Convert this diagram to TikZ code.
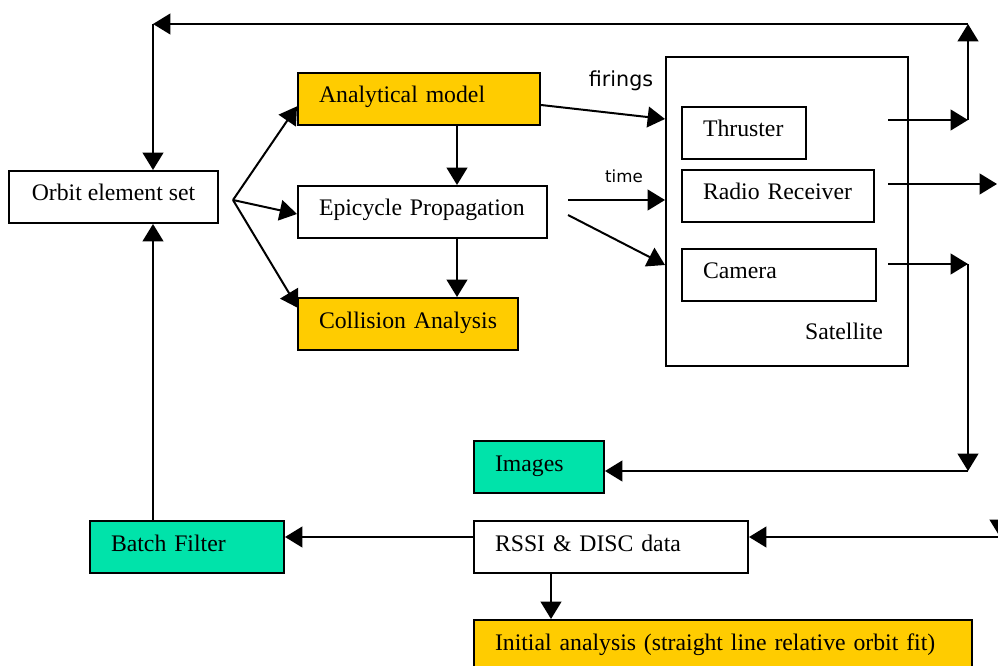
\documentclass[tikz,border=0pt]{standalone}
\usepackage{fontspec}
\setmainfont{Liberation Serif}
\newfontfamily\lblfont{DejaVu Sans}
\usetikzlibrary{arrows.meta}
\definecolor{boxyellow}{HTML}{FFCC00}
\definecolor{boxgreen}{HTML}{00E3AA}
\tikzset{
  blk/.style={draw, line width=1.5pt, anchor=north west, inner xsep=15.75pt, inner ysep=0pt,
    minimum height=39pt, text height=12pt, text depth=6pt, align=left,
    font=\fontsize{17.8}{21}\selectfont},
  flow/.style={-{Triangle[length=13pt,width=15.5pt]}, line width=1.5pt},
  lbl/.style={anchor=base, inner sep=0pt, font=\lblfont\fontsize{15.5}{18}\selectfont},
}

\begin{document}
\begin{tikzpicture}[x=0.75pt, y=-0.75pt]
\useasboundingbox (0,0) rectangle (998,666);

\node[blk, minimum width=156.75pt, align=center] (orb) at (8,170) {Orbit element set};
\node[blk, fill=boxyellow, text width=150pt] (ana) at (297,72) {\mbox{Analytical model}};
\node[blk, text width=155.25pt] (epi) at (297,185) {\mbox{Epicycle Propagation}};
\node[blk, fill=boxyellow, text width=133.5pt] (col) at (297,297) {\mbox{Collision Analysis}};

\node[draw, line width=1.5pt, anchor=north west, minimum width=181.5pt, minimum height=231.75pt] (sat) at (665,56) {};
\node[anchor=base, inner sep=0pt, font=\fontsize{17.8}{21}\selectfont] (satl) at (844,339) {Satellite};
\node[blk, text width=61.5pt] (thr) at (681,106) {Thruster};
\node[blk, text width=112.5pt] (rad) at (681,169) {\mbox{Radio Receiver}};
\node[blk, text width=114pt] (cam) at (681,248) {Camera};

\node[blk, fill=boxgreen, text width=66pt] (img) at (473,440) {Images};
\node[blk, fill=boxgreen, text width=114pt] (bat) at (89,520) {\mbox{Batch Filter}};
\node[blk, text width=174pt] (rssi) at (473,520) {\mbox{RSSI \& DISC data}};
\node[blk, fill=boxyellow, text width=342pt] (ini) at (473,619) {\mbox{Initial analysis (straight line relative orbit fit)}};

\node[lbl] (fir) at (621,87) {firings};
\node[lbl, font=\lblfont\fontsize{12.5}{15}\selectfont] (tim) at (624,183) {time};

\coordinate (fan) at (233,200);
\coordinate (vx) at (457,0);
\coordinate (vy) at (551,0);
\coordinate (ta) at (568,200);
\coordinate (tb) at (568,215);
\coordinate (in1) at (665,119);
\coordinate (in2) at (665,200);
\coordinate (in3) at (665,265);
\coordinate (thro) at (888,120);
\coordinate (rado) at (888,184);
\coordinate (camo) at (888,264);
\coordinate (j1) at (968,120);
\coordinate (j2) at (968,24);
\coordinate (j3) at (153,24);
\coordinate (rend) at (997,184);
\coordinate (j4) at (968,264);
\coordinate (j5) at (968,471);
\coordinate (j6) at (1000,490);
\coordinate (j7) at (1000,537);

\draw[flow] (fan) -- ([yshift=-5.5pt]ana.west);
\draw[flow] (fan) -- ([yshift=-1.5pt]epi.west);
\draw[flow] (fan) -- ([xshift=0.75pt,yshift=-8.25pt]col.north west);
\draw[flow] (ana.south -| vx) -- (epi.north -| vx);
\draw[flow] (epi.south -| vx) -- (col.north -| vx);

\draw[flow] ([yshift=-4.5pt]ana.east) -- (in1);
\draw[flow] (ta) -- (in2);
\draw[flow] (tb) -- (in3);

\draw[flow] (thro) -- (j1);
\draw[flow] (j1) -- (j2);
\draw[flow] (j2) -- (j3);
\draw[flow] (j3) -- (orb.north -| j3);
\draw[flow] (rado) -- (rend);
\draw[flow] (camo) -- (j4);
\draw[flow] (j4) -- (j5);
\draw[flow] (j5) -- (img.east |- j5);

\draw[flow] (j6) -- (j7);
\draw[flow] (j7) -- (rssi.east |- j7);
\draw[flow] (rssi.west |- j7) -- (bat.east |- j7);
\draw[flow] (bat.north -| j3) -- (orb.south -| j3);
\draw[flow] (rssi.south -| vy) -- (ini.north -| vy);

\end{tikzpicture}
\end{document}
